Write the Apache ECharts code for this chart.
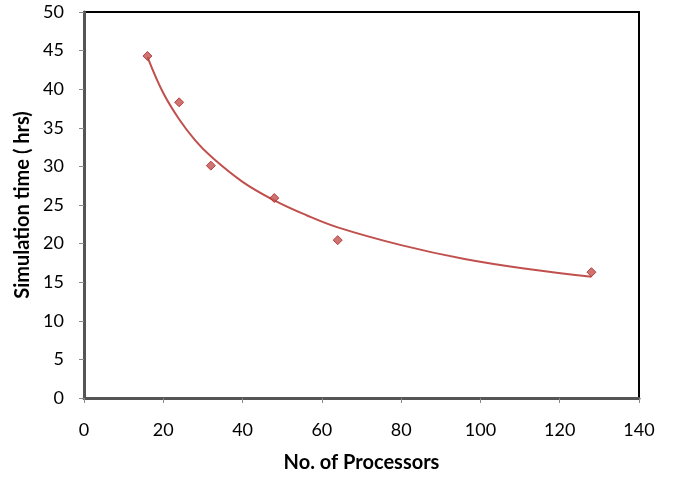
<!DOCTYPE html>
<html>
<head>
<meta charset="utf-8">
<script src="https://cdn.jsdelivr.net/npm/echarts@6/dist/echarts.min.js"></script>
<style>
  html, body { margin: 0; padding: 0; background: #fff; }
  #chart { width: 673px; height: 478px; }
</style>
</head>
<body>
<div id="chart"></div>
<script>
// measured points
const processors = [16, 24, 32, 48, 64, 128];
const simTime = [44.3, 38.3, 30.1, 25.9, 20.45, 16.3];

// trend line
const trendX = [16, 20, 24, 28, 32, 40, 48, 56, 64, 80, 96, 112, 128];
const trendY = [44.2, 39.5, 36.1, 33.4, 31.3, 28.0, 25.6, 23.7, 22.1, 19.8, 18.0, 16.7, 15.7];

const chart = echarts.init(document.getElementById('chart'));

const fontFam = 'Lato, "Open Sans", sans-serif';

const option = {
  animation: false,
  backgroundColor: '#ffffff',
  grid: {
    left: 84,
    right: 34,
    top: 12,
    bottom: 79,
    show: true,
    borderColor: '#000000',
    borderWidth: 2
  },
  xAxis: {
    type: 'value',
    min: 0,
    max: 140,
    interval: 20,
    name: 'No. of Processors',
    nameLocation: 'middle',
    nameGap: 55,
    nameTextStyle: { fontFamily: fontFam, fontSize: 20, fontWeight: 'bold', color: '#000' },
    axisLine: { show: true, lineStyle: { color: '#555', width: 3 } },
    axisTick: { show: true, inside: false, length: 5, lineStyle: { color: '#888' } },
    axisLabel: { fontFamily: fontFam, fontSize: 18, color: '#000', margin: 23 },
    splitLine: { show: false }
  },
  yAxis: {
    type: 'value',
    min: 0,
    max: 50,
    interval: 5,
    name: 'Simulation time ( hrs)',
    nameLocation: 'middle',
    nameGap: 49,
    nameTextStyle: { fontFamily: fontFam, fontSize: 20, fontWeight: 'bold', color: '#000' },
    axisLine: { show: true, lineStyle: { color: '#555', width: 3 } },
    axisTick: { show: true, inside: false, length: 5, lineStyle: { color: '#888' } },
    axisLabel: { fontFamily: fontFam, fontSize: 18, color: '#000', margin: 20 },
    splitLine: { show: false }
  },
  series: [
    {
      name: 'Trend',
      type: 'line',
      data: trendX.map((x, i) => [x, trendY[i]]),
      smooth: 0.4,
      showSymbol: false,
      lineStyle: { color: '#C0504D', width: 2 },
      z: 2
    },
    {
      name: 'Simulation time',
      type: 'scatter',
      data: processors.map((x, i) => [x, simTime[i]]),
      symbol: 'diamond',
      symbolSize: [9, 9],
      itemStyle: { color: '#C0504D', borderColor: '#B22222', borderWidth: 1 },
      z: 3
    }
  ]
};

chart.setOption(option);
</script>
</body>
</html>
